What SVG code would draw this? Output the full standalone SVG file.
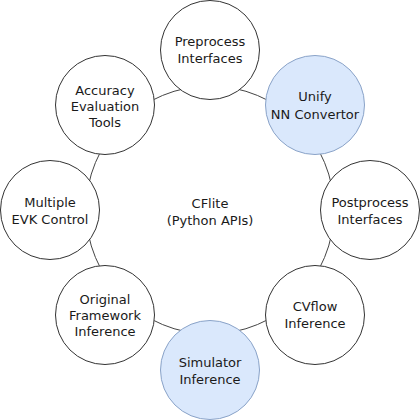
<svg xmlns="http://www.w3.org/2000/svg" width="420" height="420" viewBox="0 0 420 420">
<style>
.n{fill:#ffffff;stroke:#333333;stroke-width:1}
.b{fill:#dae8fc;stroke:#8aa3c8;stroke-width:1}
.c{fill:none;stroke:#444444;stroke-width:1}
text{font-family:"DejaVu Sans",Verdana,sans-serif;font-size:13px;fill:#1a1a1a;text-anchor:middle}
</style>
<rect width="420" height="420" fill="#ffffff"/>
<g id="connectors">
<path class="c" d="M210,86 A124,124 0 0 1 297.68,122.32"/>
<path class="c" d="M297.68,122.32 A124,124 0 0 1 334,210"/>
<path class="c" d="M334,210 A124,124 0 0 1 297.68,297.68"/>
<path class="c" d="M297.68,297.68 A124,124 0 0 1 210,334"/>
<path class="c" d="M210,334 A124,124 0 0 1 122.32,297.68"/>
<path class="c" d="M122.32,297.68 A124,124 0 0 1 86,210"/>
<path class="c" d="M86,210 A124,124 0 0 1 122.32,122.32"/>
<path class="c" d="M122.32,122.32 A124,124 0 0 1 210,86"/>
</g>
<g id="center">
<text x="210" y="207.5">CFlite</text>
<text x="210" y="224.5">(Python APIs)</text>
</g>
<g id="preprocess">
<circle class="n" cx="210" cy="50" r="49.5"/>
<text x="210" y="46">Preprocess</text>
<text x="210" y="63">Interfaces</text>
</g>
<g id="unify">
<circle class="b" cx="315" cy="105" r="49.5"/>
<text x="315" y="101">Unify</text>
<text x="315" y="118.5">NN Convertor</text>
</g>
<g id="postprocess">
<circle class="n" cx="370" cy="210" r="49.5"/>
<text x="370" y="206.5">Postprocess</text>
<text x="370" y="224">Interfaces</text>
</g>
<g id="cvflow">
<circle class="n" cx="315" cy="315" r="49.5"/>
<text x="315" y="311">CVflow</text>
<text x="315" y="327.5">Inference</text>
</g>
<g id="simulator">
<circle class="b" cx="210" cy="370" r="49.5"/>
<text x="210" y="367">Simulator</text>
<text x="210" y="383.5">Inference</text>
</g>
<g id="original">
<circle class="n" cx="105" cy="315" r="49.5"/>
<text x="105" y="303.5">Original</text>
<text x="105" y="319.5">Framework</text>
<text x="105" y="335.5">Inference</text>
</g>
<g id="evk">
<circle class="n" cx="50" cy="210" r="49.5"/>
<text x="50" y="207">Multiple</text>
<text x="50" y="223.5">EVK Control</text>
</g>
<g id="accuracy">
<circle class="n" cx="105" cy="105" r="49.5"/>
<text x="105" y="94.5">Accuracy</text>
<text x="105" y="110.5">Evaluation</text>
<text x="105" y="126.5">Tools</text>
</g>
</svg>
